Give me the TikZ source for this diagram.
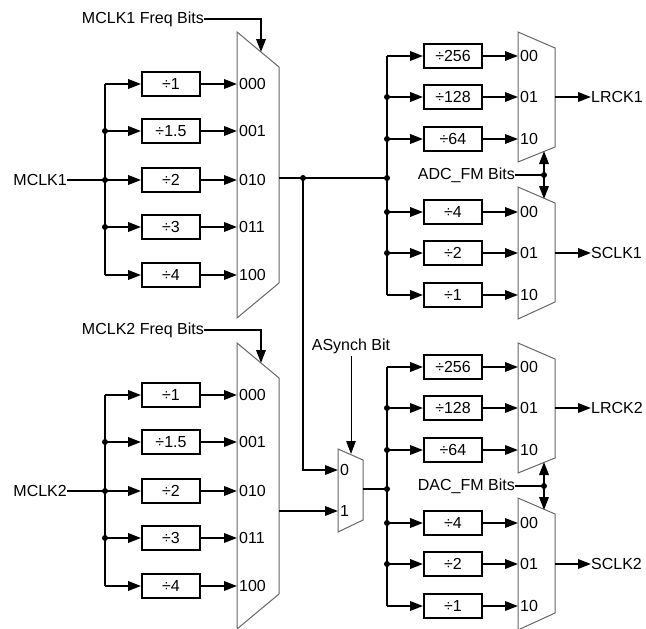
\documentclass[tikz,border=0pt]{standalone}
\usepackage{fontspec}
\setmainfont{Liberation Sans}
\usetikzlibrary{arrows.meta}
\begin{document}
\begin{tikzpicture}[x=1pt,y=-1pt,
  wire/.style={line width=1.9pt},
  arr/.style={wire,-{Triangle[length=13pt,width=9.5pt]}},
  thinarr/.style={line width=0.9pt,-{Triangle[length=13pt,width=9.5pt]}},
  dbl/.style={wire,{Triangle[length=13pt,width=9.5pt]}-{Triangle[length=13pt,width=9.5pt]}},
  div/.style={draw,line width=1.9pt,minimum width=58pt,minimum height=24pt,inner sep=0pt,font=\fontsize{16}{18}\selectfont},
  lbl/.style={inner sep=0pt,font=\fontsize{16}{18}\selectfont},
  mux/.style={draw=black!60,line width=1pt},
  jdot/.style={circle,fill,inner sep=0pt,minimum size=6pt}]
\useasboundingbox (0,0) rectangle (646,629);

% ---------- left groups ----------
\foreach \g/\o in {1/0,2/311} {
  \draw[mux] (237,32+\o) -- (279,67+\o) -- (279,283+\o) -- (237,318+\o) -- cycle;
  \foreach \y/\d/\c [count=\i] in {84/1/000,131/1.5/001,180/2/010,227/3/011,275/4/100} {
    \node[div] (g\g d\i) at (171,\y+\o) {÷\d};
    \coordinate (g\g b\i) at (105,\y+\o);
    \coordinate (g\g in\i) at (237,\y+\o);
    \node[lbl,anchor=west] (g\g c\i) at (239,\y+\o) {\c};
    \draw[arr] (g\g b\i) -- (g\g d\i.west);
    \draw[arr] (g\g d\i.east) -- (g\g in\i);
  }
  \draw[wire] (g\g b1) -- (g\g b5);
  \foreach \i in {2,3,4} \node[jdot] at (g\g b\i) {};
  \node[lbl,anchor=east] (mclk\g) at (67,180+\o) {MCLK\g};
  \draw[wire] (mclk\g.east) -- (g\g b3);
  \node[lbl,anchor=east] (fb\g) at (204,19+\o) {MCLK\g{} Freq Bits};
  \coordinate (fbt\g) at (261,52+\o);
  \draw[arr] (fb\g.east) -| (fbt\g);
}

% ---------- right groups ----------
\foreach \g/\o/\ctl in {1/0/ADC,2/311/DAC} {
  \draw[mux] (518,32+\o) -- (555,48+\o) -- (555,147+\o) -- (518,162+\o) -- cycle;
  \draw[mux] (518,187+\o) -- (555,203+\o) -- (555,302+\o) -- (518,319+\o) -- cycle;
  \foreach \y/\d/\c [count=\i] in {56/256/00,97/128/01,139/64/10,212/4/00,253/2/01,295/1/10} {
    \node[div] (r\g d\i) at (453,\y+\o) {÷\d};
    \coordinate (r\g b\i) at (387,\y+\o);
    \coordinate (r\g in\i) at (518,\y+\o);
    \node[lbl,anchor=west] (r\g c\i) at (520,\y+\o) {\c};
    \draw[arr] (r\g b\i) -- (r\g d\i.west);
    \draw[arr] (r\g d\i.east) -- (r\g in\i);
  }
  \draw[wire] (r\g b1) -- (r\g b6);
  \foreach \i in {2,3,4,5} \node[jdot] at (r\g b\i) {};
  \coordinate (r\g j) at (387,178+\o);
  \node[jdot] at (r\g j) {};
  % control bits
  \node[lbl,anchor=east] (ctl\g) at (515,175+\o) {\ctl\_FM Bits};
  \coordinate (cd\g) at (544,175+\o);
  \coordinate (cu\g) at (544,151+\o);
  \coordinate (cl\g) at (544,199+\o);
  \draw[wire] (ctl\g.east) -- (cd\g);
  \draw[dbl] (cu\g) -- (cl\g);
  \node[jdot] at (cd\g) {};
  % outputs
  \coordinate (lo\g) at (555,97+\o);
  \coordinate (so\g) at (555,253+\o);
  \node[lbl,anchor=west] (lrck\g) at (591,97+\o) {LRCK\g};
  \node[lbl,anchor=west] (sclk\g) at (591,253+\o) {SCLK\g};
  \draw[arr] (lo\g) -- (lrck\g.west);
  \draw[arr] (so\g) -- (sclk\g.west);
}

% ---------- mux1 output & async mux ----------
\coordinate (m1o) at (279,178);
\coordinate (m1j) at (303,178);
\coordinate (m2o) at (279,511);
\draw[mux] (338,449) -- (363,460) -- (363,520) -- (338,532) -- cycle;
\coordinate (a0) at (338,470);
\coordinate (a1) at (338,511);
\coordinate (ao) at (363,489);
\node[lbl,anchor=west] (a0l) at (340,470) {0};
\node[lbl,anchor=west] (a1l) at (340,511) {1};
\draw[wire] (m1o) -- (r1j);
\node[jdot] at (m1j) {};
\draw[arr] (m1j) |- (a0);
\draw[arr] (m2o) -- (a1);
\draw[wire] (ao) -- (r2j);
\node[lbl] (asb) at (351,346) {ASynch Bit};
\coordinate (ast) at (351,454);
\draw[thinarr] (asb.south) ++(0,2) -- (ast);
\end{tikzpicture}
\end{document}
